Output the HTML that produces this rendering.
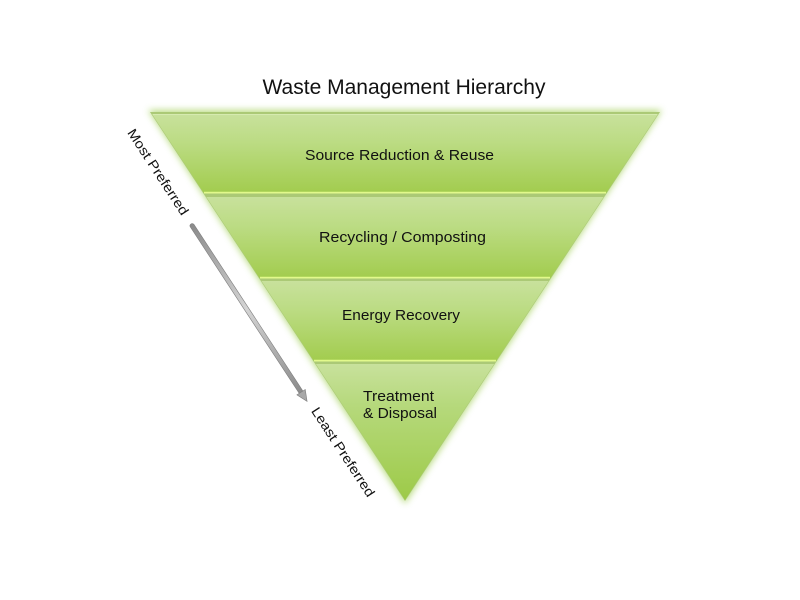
<!DOCTYPE html>
<html>
<head>
<meta charset="utf-8">
<style>
  html,body{margin:0;padding:0;background:#fff;}
  svg{display:block;}
  text{font-family:"Liberation Sans",Arial,sans-serif;fill:#111;}
</style>
</head>
<body>
<svg width="800" height="600" viewBox="0 0 800 600" xmlns="http://www.w3.org/2000/svg">
  <defs>
    <filter id="glow" x="-20%" y="-20%" width="140%" height="140%">
      <feGaussianBlur stdDeviation="3.5"/>
    </filter>
    <linearGradient id="band" x1="0" y1="0" x2="0" y2="1">
      <stop offset="0" stop-color="#c8e19c"/>
      <stop offset="0.35" stop-color="#bcdc84"/>
      <stop offset="1" stop-color="#a2cc4e"/>
    </linearGradient>
    <linearGradient id="band4" x1="0" y1="0" x2="0" y2="1">
      <stop offset="0" stop-color="#c8e19c"/>
      <stop offset="0.3" stop-color="#b6d97c"/>
      <stop offset="1" stop-color="#9dca48"/>
    </linearGradient>
    <linearGradient id="arrow" x1="0" y1="0" x2="1" y2="0">
      <stop offset="0" stop-color="#8a8a8a"/>
      <stop offset="0.5" stop-color="#d4d4d4"/>
      <stop offset="1" stop-color="#8a8a8a"/>
    </linearGradient>
  </defs>

  <!-- Title -->
  <text x="404" y="94" font-size="21" text-anchor="middle" textLength="283" lengthAdjust="spacingAndGlyphs">Waste Management Hierarchy</text>

  <!-- Glow halo -->
  <polygon points="148,110 662,110 405,504" fill="#b4d978" filter="url(#glow)" opacity="0.9"/>
  <!-- Base (gap colour) -->
  <polygon points="150,112 660,112 405,501" fill="#abc976"/>

  <!-- Band 1 -->
  <polygon points="152,114 658,114 606.2,193 203.8,193" fill="url(#band)"/>
  <line x1="153" y1="114.5" x2="657" y2="114.5" stroke="#d6eab0" stroke-width="1"/>
  <line x1="204" y1="192.6" x2="606" y2="192.6" stroke="#e2f98c" stroke-width="1.8"/>

  <!-- Band 2 -->
  <polygon points="206.4,197 603.6,197 550.5,278 259.5,278" fill="url(#band)"/>
  <line x1="260" y1="277.6" x2="550" y2="277.6" stroke="#e2f98c" stroke-width="1.8"/>

  <!-- Band 3 -->
  <polygon points="261.5,281 548.5,281 496.1,361 313.9,361" fill="url(#band)"/>
  <line x1="314" y1="360.6" x2="496" y2="360.6" stroke="#e2f98c" stroke-width="1.8"/>

  <!-- Band 4 -->
  <polygon points="315.9,364 494.1,364 405,500" fill="url(#band4)"/>

  <!-- Band labels -->
  <text x="399.5" y="160" font-size="15" text-anchor="middle" textLength="189" lengthAdjust="spacingAndGlyphs">Source Reduction &amp; Reuse</text>
  <text x="402.5" y="242" font-size="15" text-anchor="middle" textLength="167" lengthAdjust="spacingAndGlyphs">Recycling / Composting</text>
  <text x="401" y="320" font-size="15" text-anchor="middle" textLength="118" lengthAdjust="spacingAndGlyphs">Energy Recovery</text>
  <text x="363" y="401" font-size="15" textLength="71" lengthAdjust="spacingAndGlyphs">Treatment</text>
  <text x="363" y="418" font-size="15" textLength="74" lengthAdjust="spacingAndGlyphs">&amp; Disposal</text>

  <!-- Side labels -->
  <text transform="translate(158,172) rotate(56.8)" font-size="13.5" text-anchor="middle" dominant-baseline="central" textLength="100" lengthAdjust="spacingAndGlyphs">Most Preferred</text>
  <text transform="translate(343,452) rotate(56.8)" font-size="13.5" text-anchor="middle" dominant-baseline="central" textLength="104" lengthAdjust="spacingAndGlyphs">Least Preferred</text>

  <!-- Arrow -->
  <g transform="translate(191,224) rotate(56.8)">
    <rect x="0" y="-2.2" width="203" height="4.4" rx="2" fill="url(#arrow)" stroke="#7e7e7e" stroke-width="0.6"/>
    <polygon points="201,-5 212,0 201,5" fill="#a8a8a8" stroke="#7e7e7e" stroke-width="0.6"/>
  </g>
</svg>
</body>
</html>
